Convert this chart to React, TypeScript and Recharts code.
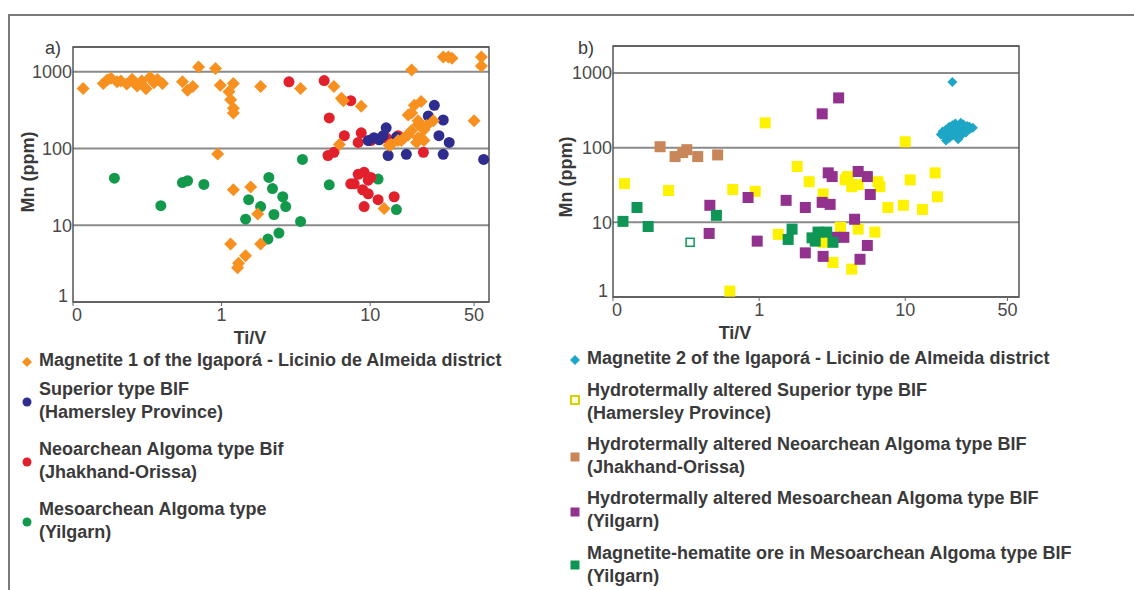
import React from 'react';
import { ScatterChart, Scatter, XAxis, YAxis, CartesianGrid, ReferenceArea } from 'recharts';

// Ti/V vs Mn (ppm)
const xTicks = [0.1, 1, 10, 50];
const yTicks = [1, 10, 100, 1000];

// a) panel
const magnetite1 = [
  [0.117, 605], [0.16, 700], [0.17, 780], [0.18, 820], [0.198, 740], [0.21, 760], [0.23, 690],
  [0.25, 800], [0.27, 650], [0.29, 760], [0.31, 600], [0.33, 850], [0.35, 720], [0.37, 790],
  [0.4, 700], [0.545, 740], [0.59, 575], [0.64, 640], [0.7, 1150], [0.91, 1100], [0.98, 667],
  [1.2, 700], [1.12, 550], [1.15, 430], [1.2, 335], [1.2, 290], [0.94, 85], [1.2, 29],
  [1.57, 31.6], [1.15, 5.7], [1.3, 3.2], [1.45, 4.0], [1.28, 2.8], [1.75, 14], [1.83, 5.7],
  [1.83, 640], [3.4, 605], [5.7, 640], [6.4, 450], [6.6, 420], [8.7, 355], [12.4, 16.5],
  [19, 1050], [31, 1550], [33.6, 1550], [35.5, 1500], [56, 1550], [56, 1190], [50, 230],
  [22, 410], [19.8, 365], [18, 273], [19, 290], [21, 230], [21, 205], [23, 186], [23, 175],
  [18.9, 170], [18, 150], [17, 138], [22, 138], [21, 138], [16.2, 127], [23, 127], [15.4, 127],
  [20.5, 120], [13.9, 113], [13.4, 110], [6.2, 113], [26.6, 230], [24, 200],
];
const superiorBif = [
  [27, 365], [31, 235], [24.6, 265], [12.8, 186], [10.6, 138], [9.7, 127], [29, 147], [34, 120],
  [13.2, 81], [17.5, 84], [31, 84], [58, 72], [12.2, 147], [11.5, 130], [15, 140],
];
const neoarcheanBif = [
  [4.9, 766], [2.84, 740], [7.4, 420], [5.3, 250], [6.7, 147], [8.7, 160], [8.3, 120], [10.1, 127],
  [12.8, 138], [15.4, 147], [22.8, 89], [5.2, 81], [5.7, 89], [8.3, 46], [9.1, 49], [7.8, 34.6],
  [9.7, 38.7], [8.9, 29], [9.7, 25.7], [11.3, 21.5], [14.5, 23.5], [9.1, 17.5], [10.1, 42], [7.4, 34.6],
];
const mesoarcheanAlgoma = [
  [0.19, 41], [0.39, 18], [0.545, 36], [0.59, 38], [0.76, 34], [1.45, 12], [1.52, 21.5], [2.08, 42],
  [2.2, 30], [1.83, 17.5], [2.58, 23.5], [2.7, 17.5], [2.25, 13.8], [2.43, 7.9], [2.05, 6.6],
  [3.4, 11.2], [3.5, 72], [5.3, 33.6], [11.3, 40], [15, 16],
];

// b) panel
const magnetite2 = [
  [21, 760], [17.5, 150], [18, 165], [18.5, 140], [19, 175], [19.5, 155], [20, 190], [20, 135],
  [20.5, 165], [21, 200], [21, 145], [21.5, 175], [22, 210], [22, 155], [22.5, 185], [23, 165],
  [23, 130], [23.5, 195], [24, 175], [24.5, 150], [25, 205], [25, 170], [25.5, 185], [26, 160],
  [26.5, 195], [27, 175], [27.5, 190], [28, 180], [29, 185], [19, 125], [24, 215],
];
const hydroSuperior = [
  [0.12, 33], [0.24, 26.7], [0.66, 27.5], [0.94, 26], [1.1, 215], [1.35, 6.9], [0.63, 1.2],
  [1.82, 56], [10, 120], [2.2, 35], [2.74, 24], [3.88, 37], [4.3, 30], [4.07, 41], [4.76, 32],
  [6.5, 35], [6.7, 30], [10.8, 37], [16, 46], [16.6, 22], [7.6, 15.8], [9.7, 16.9], [13.1, 14.9],
  [3.6, 8.6], [4.76, 8.1], [6.2, 7.4], [3.2, 2.9], [4.3, 2.36], [2.74, 5.4], [4, 40],
];
const hydroNeoarchean = [[0.21, 103], [0.266, 76], [0.3, 86], [0.32, 94], [0.38, 76], [0.52, 80]];
const hydroMesoarchean = [
  [0.46, 16.9], [0.455, 7.1], [0.84, 21.5], [0.97, 5.6], [1.53, 19.7], [3.5, 464], [2.7, 284],
  [2.97, 46], [3.16, 41], [4.76, 48], [5.5, 41], [5.76, 23.6], [2.07, 15.8], [2.7, 18.5],
  [3.06, 17.4], [4.5, 11], [3.8, 6.3], [5.5, 4.9], [4.9, 3.2], [2.74, 3.5], [2.07, 3.9], [3.3, 6.3],
];
const magHemOre = [
  [0.117, 10.3], [0.146, 15.8], [0.174, 8.8], [0.51, 12.4], [1.68, 8.1], [1.58, 5.9], [2.53, 7.4],
  [2.9, 7.4], [2.42, 5.6], [3.2, 5.4], [2.3, 6.2],
];
const magHemOreOpen = [[0.337, 5.4]];

const C = {
  orange: '#f7901e',
  blue: '#2e2d8f',
  red: '#e2202c',
  green: '#13994c',
  cyan: '#1ea6c6',
  yellow: '#fff200',
  brown: '#c98659',
  purple: '#93318f',
  dkgreen: '#0f9656',
};

const toPts = (arr: number[][]) => arr.map(([x, y]) => ({ x, y }));

const FONT = '"Liberation Sans", Arial, sans-serif';

// "0" sits a little right of the axis start, "1" a little above the bottom line
const XTick = (p: any) => {
  const v = p.payload.value;
  return (
    <text x={p.x + (v === 0.1 ? 4 : 0)} y={p.y} dy="0.71em" textAnchor="middle" fontSize={18} fill="#4a4a4a" fontFamily={FONT}>
      {v === 0.1 ? '0' : v}
    </text>
  );
};
const YTick = (p: any) => {
  const v = p.payload.value;
  return (
    <text x={p.x - (v === 1 ? 4 : 0)} y={p.y - (v === 1 ? 6 : 0)} dy="0.355em" textAnchor="end" fontSize={18} fill="#4a4a4a" fontFamily={FONT}>
      {v}
    </text>
  );
};

const diamond = (color: string, r: number) => (p: any) => (
  <path d={`M${p.cx},${p.cy - r}L${p.cx + r},${p.cy}L${p.cx},${p.cy + r}L${p.cx - r},${p.cy}Z`} fill={color} />
);
const circle = (color: string, r: number) => (p: any) => <circle cx={p.cx} cy={p.cy} r={r} fill={color} />;
const square = (color: string, s: number, hollow = false) => (p: any) => (
  <rect
    x={p.cx - s / 2}
    y={p.cy - s / 2}
    width={s}
    height={s}
    fill={hollow ? '#fff' : color}
    stroke={hollow ? color : 'none'}
    strokeWidth={hollow ? 1.5 : 0}
  />
);

const Panel = ({ left, yMax, xMax, top, marginBottom, children }: any) => (
  <div style={{ position: 'absolute', left, top: 0 }}>
    <ScatterChart width={left === 0 ? 500 : 490} height={340} margin={{ top, right: 11, left: 0, bottom: marginBottom }}>
      <CartesianGrid vertical={false} stroke="#8a8a8a" strokeWidth={2} />
      <XAxis
        type="number"
        dataKey="x"
        scale="log"
        domain={[0.1, xMax]}
        ticks={xTicks}
        interval={0}
        axisLine={false}
        tickLine={{ stroke: '#666' }}
        tickSize={4}
        tickMargin={2}
        height={30}
        tick={XTick}
      />
      <YAxis
        type="number"
        dataKey="y"
        scale="log"
        domain={[1, yMax]}
        ticks={yTicks}
        interval={0}
        axisLine={false}
        tickLine={false}
        tickSize={0}
        tickMargin={1}
        width={73}
        tick={YTick}
      />
      <ReferenceArea x1={0.1} x2={xMax} y1={1} y2={yMax} fill="none" stroke="#555" strokeWidth={1.5} />
      {children}
    </ScatterChart>
  </div>
);

const LegendMark = ({ kind, color }: { kind: string; color: string }) => (
  <svg width={12} height={12} style={{ position: 'absolute', left: -6, top: -6 }}>
    {kind === 'diamond' && <path d="M6,1L11,6L6,11L1,6Z" fill={color} />}
    {kind === 'circle' && <circle cx={6} cy={6} r={4.5} fill={color} />}
    {kind === 'square' && <rect x={1.5} y={1.5} width={9} height={9} fill={color} />}
    {kind === 'hollow' && <rect x={2} y={2} width={8} height={8} fill="#fffde0" stroke={color} strokeWidth={2} />}
  </svg>
);

const LegendItem = ({ x, y, my, kind, color, lines }: any) => (
  <>
    <div style={{ position: 'absolute', left: x - 12, top: my }}>
      <LegendMark kind={kind} color={color} />
    </div>
    <div
      style={{
        position: 'absolute',
        left: x,
        top: y - 11.5,
        fontFamily: FONT,
        fontWeight: 'bold',
        fontSize: 18,
        lineHeight: '23px',
        color: '#3a3a3a',
        whiteSpace: 'nowrap',
      }}
    >
      {lines.map((l: string) => (
        <div key={l}>{l}</div>
      ))}
    </div>
  </>
);

const label = (style: any, text: string) => (
  <div style={{ position: 'absolute', fontFamily: FONT, color: '#3a3a3a', whiteSpace: 'nowrap', ...style }}>{text}</div>
);

export default function App() {
  return (
    <div style={{ position: 'absolute', left: 0, top: 0, width: 1134, height: 590, background: '#fff', overflow: 'hidden' }}>
      <div style={{ position: 'absolute', left: 8, top: 14, width: 1130, height: 580, borderTop: '2px solid #7a7a7a', borderLeft: '2px solid #7a7a7a' }} />

      <Panel left={0} top={47} yMax={2100} xMax={63} marginBottom={8}>
        <Scatter data={toPts(mesoarcheanAlgoma)} shape={circle(C.green, 5.5)} isAnimationActive={false} />
        <Scatter data={toPts(neoarcheanBif)} shape={circle(C.red, 5.5)} isAnimationActive={false} />
        <Scatter data={toPts(superiorBif)} shape={circle(C.blue, 5.5)} isAnimationActive={false} />
        <Scatter data={toPts(magnetite1)} shape={diamond(C.orange, 6.5)} isAnimationActive={false} />
      </Panel>

      <Panel left={540} top={46} yMax={2300} xMax={60} marginBottom={13}>
        <Scatter data={toPts(hydroSuperior)} shape={square(C.yellow, 11)} isAnimationActive={false} />
        <Scatter data={toPts(hydroMesoarchean)} shape={square(C.purple, 11)} isAnimationActive={false} />
        <Scatter data={toPts(magHemOre)} shape={square(C.dkgreen, 11)} isAnimationActive={false} />
        <Scatter data={toPts(magHemOreOpen)} shape={square(C.dkgreen, 8, true)} isAnimationActive={false} />
        <Scatter data={toPts(hydroNeoarchean)} shape={square(C.brown, 11)} isAnimationActive={false} />
        <Scatter data={toPts(magnetite2)} shape={diamond(C.cyan, 5)} isAnimationActive={false} />
      </Panel>

      {label({ left: 45, top: 38, fontSize: 18 }, 'a)')}
      {label({ left: 578, top: 38, fontSize: 18 }, 'b)')}
      {label({ left: 28, top: 172, fontSize: 18, fontWeight: 'bold', transform: 'translate(-50%, -50%) rotate(-90deg)' }, 'Mn (ppm)')}
      {label({ left: 566, top: 177, fontSize: 18, fontWeight: 'bold', transform: 'translate(-50%, -50%) rotate(-90deg)' }, 'Mn (ppm)')}
      {label({ left: 250, top: 338, fontSize: 18, fontWeight: 'bold', transform: 'translate(-50%, -50%)' }, 'Ti/V')}
      {label({ left: 735, top: 333, fontSize: 18, fontWeight: 'bold', transform: 'translate(-50%, -50%)' }, 'Ti/V')}

      <LegendItem x={39} y={360} my={362} kind="diamond" color={C.orange} lines={['Magnetite 1 of the Igaporá - Licinio de Almeida district']} />
      <LegendItem x={39} y={389} my={402} kind="circle" color={C.blue} lines={['Superior type BIF', '(Hamersley Province)']} />
      <LegendItem x={39} y={449} my={462} kind="circle" color={C.red} lines={['Neoarchean Algoma type Bif', '(Jhakhand-Orissa)']} />
      <LegendItem x={39} y={509} my={522} kind="circle" color={C.green} lines={['Mesoarchean Algoma type', '(Yilgarn)']} />

      <LegendItem x={587} y={358} my={360} kind="diamond" color={C.cyan} lines={['Magnetite 2 of the Igaporá - Licinio de Almeida district']} />
      <LegendItem x={587} y={390} my={400} kind="hollow" color="#d8d000" lines={['Hydrotermally altered Superior type BIF', '(Hamersley Province)']} />
      <LegendItem x={587} y={444} my={457} kind="square" color={C.brown} lines={['Hydrotermally altered Neoarchean Algoma type BIF', '(Jhakhand-Orissa)']} />
      <LegendItem x={587} y={498} my={512} kind="square" color={C.purple} lines={['Hydrotermally altered Mesoarchean Algoma type BIF', '(Yilgarn)']} />
      <LegendItem x={587} y={553} my={565} kind="square" color={C.dkgreen} lines={['Magnetite-hematite ore in Mesoarchean Algoma type BIF', '(Yilgarn)']} />
    </div>
  );
}
